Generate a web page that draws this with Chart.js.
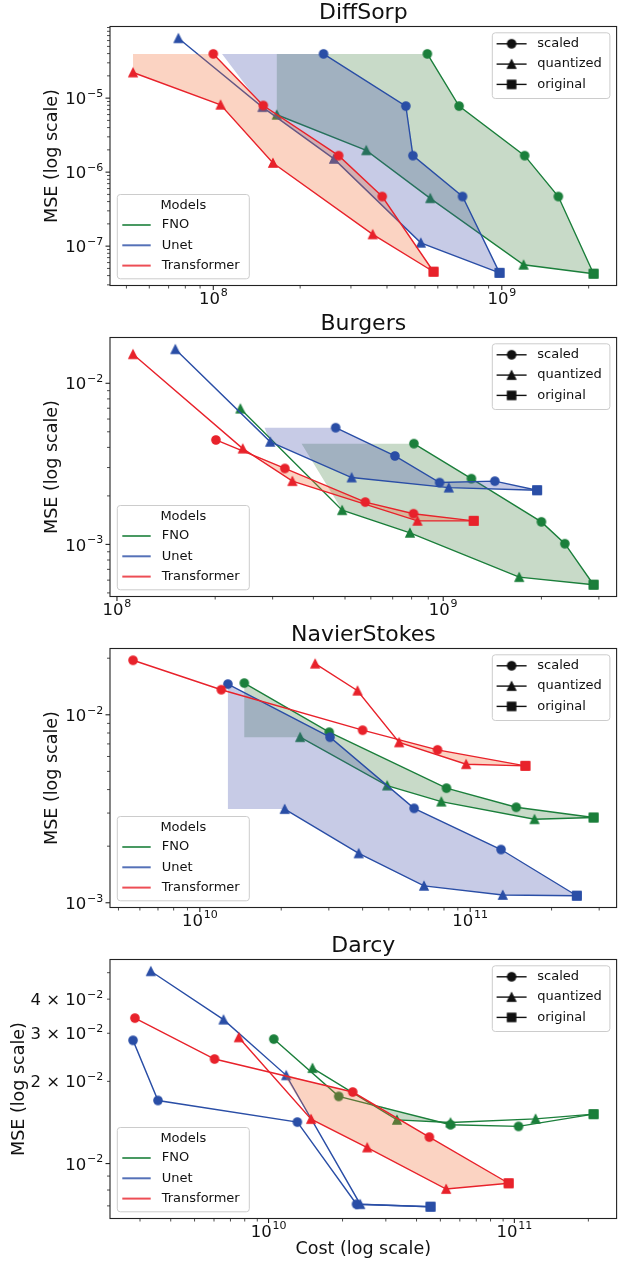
<!DOCTYPE html>
<html>
<head>
<meta charset="utf-8">
<script src="https://cdn.jsdelivr.net/npm/chart.js@4.4.1/dist/chart.umd.min.js"></script>
<style>
  body { margin: 0; background: #fff; width: 623px; height: 1261px; position: relative; overflow: hidden; }
  canvas { position: absolute; left: 0; }
</style>
</head>
<body>
<canvas id="c0" width="623" height="311" style="top:0px"></canvas>
<canvas id="c1" width="623" height="311" style="top:311px"></canvas>
<canvas id="c2" width="623" height="311" style="top:622px"></canvas>
<canvas id="c3" width="623" height="328" style="top:933px"></canvas>
<script>
Chart.defaults.font.family = "'DejaVu Sans', sans-serif";
Chart.defaults.color = '#111';

const modelNames = ['FNO', 'Unet', 'Transformer'];
const lineColors = ['#1b7f3b', '#2a4ea6', '#e8222b'];
const fillColors = ['rgba(72,132,72,0.3)', 'rgba(68,82,172,0.3)', 'rgba(242,108,52,0.3)'];
const panelTitles = ['DiffSorp', 'Burgers', 'NavierStokes', 'Darcy'];
const variantNames = ['scaled', 'quantized', 'original'];

// DiffSorp  [cost, mse]
const diffSorpScaled = {
  FNO: [[5.52e8, 3.96e-5], [7.11e8, 7.8e-6], [1.2e9, 1.67e-6], [1.57e9, 4.68e-7]],
  Unet: [[2.41e8, 3.96e-5], [4.65e8, 7.8e-6], [4.92e8, 1.67e-6], [7.31e8, 4.68e-7]],
  Transformer: [[1.0e8, 3.96e-5], [1.49e8, 7.96e-6], [2.72e8, 1.67e-6], [3.85e8, 4.68e-7]],
};
const diffSorpQuantized = {
  FNO: [[1.66e8, 5.96e-6], [3.39e8, 1.97e-6], [5.65e8, 4.43e-7], [1.19e9, 5.6e-8]],
  Unet: [[7.57e7, 6.44e-5], [1.48e8, 7.56e-6], [2.62e8, 1.51e-6], [5.24e8, 1.11e-7]],
  Transformer: [[5.27e7, 2.22e-5], [1.06e8, 8.13e-6], [1.61e8, 1.33e-6], [3.57e8, 1.44e-7]],
};
const diffSorpOriginal = { FNO: [2.08e9, 4.24e-8], Unet: [9.82e8, 4.36e-8], Transformer: [5.8e8, 4.51e-8] };

// Burgers
const burgersScaled = {
  FNO: [[8.13e8, 4.22e-3], [1.22e9, 2.56e-3], [2.0e9, 1.38e-3], [2.36e9, 1.01e-3]],
  Unet: [[4.68e8, 5.3e-3], [7.11e8, 3.54e-3], [9.75e8, 2.42e-3], [1.44e9, 2.47e-3]],
  Transformer: [[2.01e8, 4.45e-3], [3.27e8, 2.96e-3], [5.77e8, 1.83e-3], [8.11e8, 1.55e-3]],
};
const burgersQuantized = {
  FNO: [[2.39e8, 6.96e-3], [4.9e8, 1.63e-3], [7.91e8, 1.18e-3], [1.71e9, 6.26e-4]],
  Unet: [[1.51e8, 1.626e-2], [2.95e8, 4.33e-3], [5.24e8, 2.6e-3], [1.04e9, 2.25e-3]],
  Transformer: [[1.12e8, 1.514e-2], [2.43e8, 3.93e-3], [3.45e8, 2.47e-3], [8.34e8, 1.4e-3]],
};
const burgersOriginal = { FNO: [2.89e9, 5.62e-4], Unet: [1.94e9, 2.17e-3], Transformer: [1.24e9, 1.4e-3] };

// NavierStokes
const navierScaled = {
  FNO: [[1.46e10, 1.475e-2], [3.01e10, 8.08e-3], [8.17e10, 4.07e-3], [1.48e11, 3.22e-3]],
  Unet: [[1.27e10, 1.456e-2], [3.03e10, 7.6e-3], [6.2e10, 3.18e-3], [1.3e11, 1.92e-3]],
  Transformer: [[5.66e9, 1.95e-2], [1.2e10, 1.359e-2], [4.0e10, 8.28e-3], [7.57e10, 6.51e-3]],
};
const navierQuantized = {
  FNO: [[2.35e10, 7.6e-3], [4.93e10, 4.2e-3], [7.82e10, 3.45e-3], [1.73e11, 2.78e-3]],
  Unet: [[2.06e10, 3.15e-3], [3.87e10, 1.83e-3], [6.75e10, 1.23e-3], [1.32e11, 1.1e-3]],
  Transformer: [[2.67e10, 1.87e-2], [3.83e10, 1.343e-2], [5.46e10, 7.13e-3], [9.66e10, 5.46e-3]],
};
const navierOriginal = { FNO: [2.86e11, 2.84e-3], Unet: [2.48e11, 1.09e-3], Transformer: [1.6e11, 5.35e-3] };

// Darcy
const darcyScaled = {
  FNO: [[1.05e10, 2.857e-2], [1.93e10, 1.762e-2], [5.5e10, 1.387e-2], [1.04e11, 1.368e-2]],
  Unet: [[2.81e9, 2.826e-2], [3.55e9, 1.702e-2], [1.31e10, 1.419e-2], [2.28e10, 7.1e-3]],
  Transformer: [[2.86e9, 3.41e-2], [6.03e9, 2.414e-2], [2.2e10, 1.828e-2], [4.51e10, 1.25e-2]],
};
const darcyQuantized = {
  FNO: [[1.51e10, 2.237e-2], [3.33e10, 1.445e-2], [5.5e10, 1.413e-2], [1.22e11, 1.458e-2]],
  Unet: [[3.32e9, 5.06e-2], [6.56e9, 3.365e-2], [1.18e10, 2.104e-2], [2.36e10, 7.1e-3]],
  Transformer: [[7.57e9, 2.897e-2], [1.49e10, 1.455e-2], [2.52e10, 1.145e-2], [5.28e10, 8.07e-3]],
};
const darcyOriginal = { FNO: [2.1e11, 1.517e-2], Unet: [4.56e10, 6.95e-3], Transformer: [9.48e10, 8.47e-3] };

const panels = [
  [diffSorpScaled, diffSorpQuantized, diffSorpOriginal],
  [burgersScaled, burgersQuantized, burgersOriginal],
  [navierScaled, navierQuantized, navierOriginal],
  [darcyScaled, darcyQuantized, darcyOriginal],
];

// ---- helpers ----
const FONT = "'DejaVu Sans', sans-serif";

function makeMarker(shape, color) {
  const size = 8.3, edge = 1.3, c = document.createElement('canvas');
  c.width = c.height = 14;
  const g = c.getContext('2d'), m = 7, h = size / 2;
  g.fillStyle = color; g.strokeStyle = color; g.lineWidth = edge;
  g.beginPath();
  if (shape === 'o') g.arc(m, m, h, 0, Math.PI * 2);
  else if (shape === '^') { g.moveTo(m, m - h); g.lineTo(m - h, m + h); g.lineTo(m + h, m + h); g.closePath(); }
  else g.rect(m - h, m - h, size, size);
  g.fill(); g.stroke();
  return c;
}
const markers = lineColors.map(c => ({ o: makeMarker('o', c), '^': makeMarker('^', c), s: makeMarker('s', c) }));
const legendMarkers = { o: makeMarker('o', '#111'), '^': makeMarker('^', '#111'), s: makeMarker('s', '#111') };

// interpolation along a series in log-log space, clamped at both ends
function interp(x, pts) {
  const n = pts.length;
  if (x <= pts[0][0]) return pts[0][1];
  if (x >= pts[n - 1][0]) return pts[n - 1][1];
  const lx = Math.log10(x);
  for (let i = 1; i < n; i++) {
    if (x <= pts[i][0]) {
      const x0 = Math.log10(pts[i - 1][0]), x1 = Math.log10(pts[i][0]);
      const y0 = Math.log10(pts[i - 1][1]), y1 = Math.log10(pts[i][1]);
      return Math.pow(10, y0 + (lx - x0) / (x1 - x0) * (y1 - y0));
    }
  }
}

// band where scaled lies above quantized, crossings found linearly between grid points
function band(up, lo) {
  const xs = [...new Set([...up, ...lo].map(p => p[0]))].sort((a, b) => a - b);
  const u = xs.map(x => interp(x, up)), l = xs.map(x => interp(x, lo));
  const runs = [];
  let cur = null;
  for (let i = 0; i < xs.length; i++) {
    const ok = u[i] >= l[i];
    if (i > 0 && ok !== (u[i - 1] >= l[i - 1])) {
      const d0 = u[i - 1] - l[i - 1], d1 = u[i] - l[i];
      const t = d0 / (d0 - d1);
      const cx = xs[i - 1] + t * (xs[i] - xs[i - 1]);
      const cy = u[i - 1] + t * (u[i] - u[i - 1]);
      if (cur) { cur.push([cx, cy, cy]); runs.push(cur); cur = null; }
      else cur = [[cx, cy, cy]];
    }
    if (ok) { if (!cur) cur = []; cur.push([xs[i], u[i], l[i]]); }
  }
  if (cur) runs.push(cur);
  if (!runs.length) return [];
  const span = r => Math.log10(r[r.length - 1][0]) - Math.log10(r[0][0]);
  const main = runs.reduce((a, b) => (span(b) > span(a) ? b : a));
  return [[
    ...main.map(v => ({ x: v[0], y: v[1] })),
    ...main.slice().reverse().map(v => ({ x: v[0], y: v[2] })),
  ]];
}

function logLimits(vals) {
  const lo = Math.log10(Math.min(...vals)), hi = Math.log10(Math.max(...vals));
  const m = (hi - lo) * 0.05;
  return [Math.pow(10, lo - m), Math.pow(10, hi + m)];
}

function logTicks(min, max) {
  const ticks = [];
  for (let e = Math.floor(Math.log10(min)); e <= Math.ceil(Math.log10(max)); e++) {
    for (let m = 1; m < 10; m++) {
      const v = m * Math.pow(10, e);
      if (v >= min && v <= max) ticks.push({ value: v, major: m === 1 });
    }
  }
  return ticks;
}

// label pieces for a log tick: base text and exponent text (or null)
function tickParts(v, min, max) {
  const e = Math.floor(Math.log10(v) + 1e-9);
  const m = Math.round(v / Math.pow(10, e));
  const numdec = Math.log10(max) - Math.log10(min);
  const labeled = numdec > 1 ? [1] : [1, 2, 3, 4, 6];
  if (!labeled.includes(m)) return null;
  return { base: m === 1 ? '10' : m + ' × 10', exp: String(e).replace('-', '\u2212') };
}

function drawPowerLabel(ctx, parts, x, baseline, align) {
  ctx.font = '16.5px ' + FONT;
  const wb = ctx.measureText(parts.base).width;
  ctx.font = '11px ' + FONT;
  const we = ctx.measureText(parts.exp).width;
  const w = wb + 0.8 + we;
  const x0 = align === 'center' ? x - w / 2 : x - w;
  ctx.textAlign = 'left';
  ctx.textBaseline = 'alphabetic';
  ctx.fillStyle = '#111';
  ctx.font = '16.5px ' + FONT;
  ctx.fillText(parts.base, x0, baseline);
  ctx.font = '11px ' + FONT;
  ctx.fillText(parts.exp, x0 + wb + 0.8, baseline - 7.3);
}

function buildDatasets(scaled, quantized, original) {
  const sets = [];
  modelNames.forEach((name, k) => {
    const s = [...scaled[name], original[name]];
    const q = [...quantized[name], original[name]];
    for (const poly of band(s, q)) {
      sets.push({ data: poly, showLine: true, fill: 'shape', backgroundColor: fillColors[k],
        borderWidth: 0, borderColor: 'rgba(0,0,0,0)', pointRadius: 0, pointHoverRadius: 0 });
    }
    [[s, 'o'], [q, '^']].forEach(([pts, shape]) => sets.push({
      data: pts.map(([x, y]) => ({ x, y })), showLine: true, fill: false,
      borderColor: lineColors[k], borderWidth: 1.4,
      pointStyle: pts.map((_, i) => markers[k][i === pts.length - 1 ? 's' : shape]),
      pointRadius: 5, pointHoverRadius: 5,
    }));
  });
  sets.forEach((d, i) => { d.order = -i; });
  return sets;
}

function roundBox(ctx, x, y, w, h, r) {
  ctx.beginPath();
  ctx.moveTo(x + r, y); ctx.lineTo(x + w - r, y); ctx.arcTo(x + w, y, x + w, y + r, r);
  ctx.lineTo(x + w, y + h - r); ctx.arcTo(x + w, y + h, x + w - r, y + h, r);
  ctx.lineTo(x + r, y + h); ctx.arcTo(x, y + h, x, y + h - r, r);
  ctx.lineTo(x, y + r); ctx.arcTo(x, y, x + r, y, r);
  ctx.closePath();
  ctx.fillStyle = 'rgba(255,255,255,0.8)'; ctx.fill();
  ctx.strokeStyle = '#cccccc'; ctx.lineWidth = 1; ctx.stroke();
}

const framePlugin = {
  id: 'frame',
  afterDraw(chart) {
    const { ctx, chartArea: a, scales } = chart;
    const { x: sx, y: sy } = scales;
    ctx.save();
    ctx.strokeStyle = '#222';
    ctx.lineWidth = 1.1;
    ctx.strokeRect(a.left, a.top, a.right - a.left, a.bottom - a.top);
    for (const t of sx.ticks) {
      const px = sx.getPixelForValue(t.value);
      ctx.lineWidth = t.major ? 1.1 : 0.8;
      ctx.beginPath(); ctx.moveTo(px, a.bottom); ctx.lineTo(px, a.bottom + (t.major ? 4.5 : 3)); ctx.stroke();
      const parts = tickParts(t.value, sx.min, sx.max);
      if (parts) drawPowerLabel(ctx, parts, px, a.bottom + 18, 'center');
    }
    for (const t of sy.ticks) {
      const py = sy.getPixelForValue(t.value);
      ctx.lineWidth = t.major ? 1.1 : 0.8;
      ctx.beginPath(); ctx.moveTo(a.left, py); ctx.lineTo(a.left - (t.major ? 4.5 : 3), py); ctx.stroke();
      const parts = tickParts(t.value, sy.min, sy.max);
      if (parts) drawPowerLabel(ctx, parts, a.left - 6.7, py + 6.1, 'right');
    }

    ctx.font = '13px ' + FONT;
    ctx.textBaseline = 'middle';
    ctx.textAlign = 'left';

    // variant legend (upper right)
    const rw = 117.6, rh = 65.7;
    const rx = a.right - 6.7 - rw, ry = a.top + 6.3;
    roundBox(ctx, rx, ry, rw, rh, 3);
    ['o', '^', 's'].forEach((shape, i) => {
      const y = ry + 11 + i * 20.3;
      ctx.strokeStyle = '#111'; ctx.lineWidth = 1.4;
      ctx.beginPath(); ctx.moveTo(rx + 4.3, y); ctx.lineTo(rx + 34.3, y); ctx.stroke();
      ctx.drawImage(legendMarkers[shape], rx + 19.3 - 7, y - 7);
      ctx.fillStyle = '#111';
      ctx.fillText(variantNames[i], rx + 45, y);
    });

    // model legend (lower left)
    const lw = 132, lh = 84.3;
    const lx = a.left + 7.3, ly = a.bottom - 6.7 - lh;
    roundBox(ctx, lx, ly, lw, lh, 3);
    ctx.fillStyle = '#111';
    ctx.textAlign = 'center';
    ctx.fillText('Models', lx + lw / 2, ly + 11.5);
    ctx.textAlign = 'left';
    modelNames.forEach((name, i) => {
      const y = ly + 30.5 + i * 20.3;
      ctx.strokeStyle = lineColors[i]; ctx.lineWidth = 2; ctx.globalAlpha = 0.8;
      ctx.beginPath(); ctx.moveTo(lx + 5, y); ctx.lineTo(lx + 33.4, y); ctx.stroke();
      ctx.globalAlpha = 1;
      ctx.fillStyle = '#111';
      ctx.fillText(name, lx + 44.4, y);
    });
    ctx.restore();
  },
};

panels.forEach(([scaled, quantized, original], idx) => {
  const last = idx === panels.length - 1;
  const allPts = [];
  modelNames.forEach(n => { allPts.push(...scaled[n], ...quantized[n], original[n]); });
  const [xMin, xMax] = logLimits(allPts.map(p => p[0]));
  const [yMin, yMax] = logLimits(allPts.map(p => p[1]));
  const padLeft = last ? 8.5 : 42;

  new Chart(document.getElementById('c' + idx), {
    type: 'scatter',
    data: { datasets: buildDatasets(scaled, quantized, original) },
    options: {
      responsive: false,
      animation: false,
      devicePixelRatio: 1,
      events: [],
      layout: { padding: { left: padLeft, right: 3, top: 0, bottom: 0 } },
      plugins: {
        legend: { display: false },
        tooltip: { enabled: false },
        title: {
          display: true, text: panelTitles[idx], fullSize: false, color: '#111',
          font: { size: 22, weight: 'normal', lineHeight: 1.1 },
          padding: { top: 1.2, bottom: 1.1 },
        },
      },
      scales: {
        x: {
          type: 'logarithmic', min: xMin, max: xMax, bounds: 'data',
          grid: { display: false, drawTicks: false }, border: { display: false },
          ticks: { display: false, autoSkip: false },
          title: {
            display: last, text: 'Cost (log scale)', color: '#111',
            font: { size: 17.5 }, padding: { top: 0, bottom: 0.7 },
          },
          afterBuildTicks: s => { s.ticks = logTicks(s.min, s.max); },
          afterFit: s => { s.height = last ? 42.5 : 25.5; s.paddingLeft = 0; s.paddingRight = 0; },
        },
        y: {
          type: 'logarithmic', min: yMin, max: yMax, bounds: 'data',
          grid: { display: false, drawTicks: false }, border: { display: false },
          ticks: { display: false, autoSkip: false },
          title: {
            display: true, text: 'MSE (log scale)', color: '#111',
            font: { size: 17.5 }, padding: { top: 0, bottom: 0 },
          },
          afterBuildTicks: s => { s.ticks = logTicks(s.min, s.max); },
          afterFit: s => { s.width = 110 - padLeft; s.paddingTop = 0; s.paddingBottom = 0; },
        },
      },
    },
    plugins: [framePlugin],
  });
});
</script>
</body>
</html>
